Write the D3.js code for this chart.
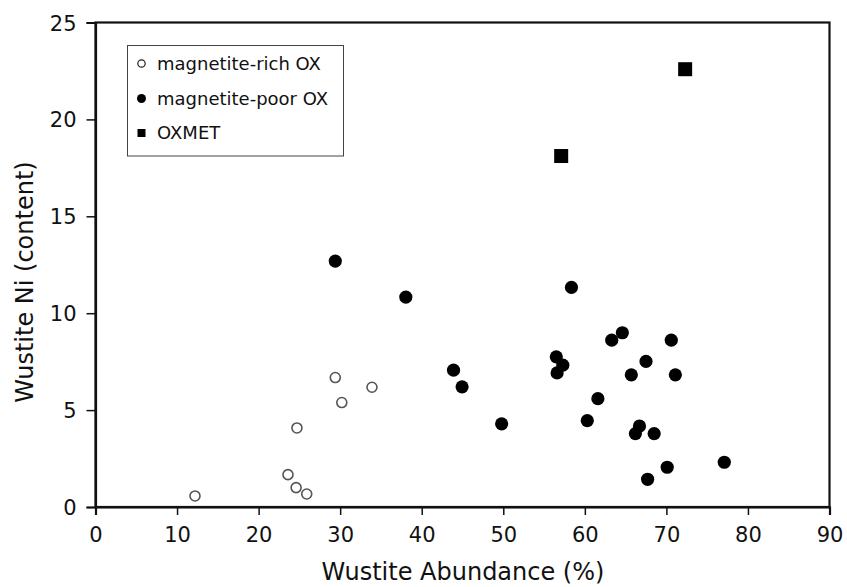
<!DOCTYPE html>
<html><head><meta charset="utf-8">
<script src="https://cdn.jsdelivr.net/npm/d3@7"></script>
<style>body{margin:0;background:#fff}svg{display:block}text{font-family:"DejaVu Sans",Verdana,sans-serif;fill:#111}</style>
</head><body><svg id="c" width="847" height="587"></svg>
<script>
const richX = [12.2, 23.6, 24.6, 25.9, 24.7, 29.4, 30.2, 33.9];
const richY = [0.57, 1.67, 1.0, 0.67, 4.08, 6.68, 5.39, 6.18];
const poorX = [29.4, 38.05, 43.9, 44.95, 49.8, 58.36, 56.5, 57.3, 56.6, 61.6, 60.3, 63.3, 64.6, 70.6, 67.5, 65.7, 71.1, 66.7, 66.2, 68.5, 77.1, 70.1, 67.7];
const poorY = [12.69, 10.83, 7.06, 6.2, 4.29, 11.33, 7.75, 7.32, 6.92, 5.59, 4.46, 8.61, 8.99, 8.61, 7.51, 6.82, 6.82, 4.18, 3.79, 3.79, 2.31, 2.05, 1.43];
const oxmetX = [57.1, 72.3];
const oxmetY = [18.11, 22.59];
const xTicks = [0,10,20,30,40,50,60,70,80,90];
const yTicks = [0,5,10,15,20,25];
const seriesNames = ["magnetite-rich OX","magnetite-poor OX","OXMET"];
const xTitle = "Wustite Abundance (%)";
const yTitle = "Wustite Ni (content)";

const svg = d3.select("#c");
const L=95.5, R=829.5, T=22.5, B=507;
const x = d3.scaleLinear().domain([0,90]).range([L,R]);
const y = d3.scaleLinear().domain([0,25]).range([B,T]);

// frame
svg.append("rect").attr("x",L).attr("y",T).attr("width",R-L).attr("height",B-T)
  .attr("fill","none").attr("stroke","#111").attr("stroke-width",2.2);

const xa = svg.append("g").attr("transform",`translate(0,${B})`)
  .call(d3.axisBottom(x).tickValues(xTicks).tickSize(8).tickPadding(12).tickFormat(d3.format("d")));
const ya = svg.append("g").attr("transform",`translate(${L},0)`)
  .call(d3.axisLeft(y).tickValues(yTicks).tickSize(9).tickPadding(10).tickFormat(d3.format("d")));
[xa,ya].forEach(a=>{
  a.attr("font-size",null).attr("font-family",null);
  a.select(".domain").attr("stroke","#111").attr("stroke-width",2.2);
  a.selectAll(".tick line").attr("stroke","#111").attr("stroke-width",1.5);
  a.selectAll(".tick text").style("font-size","21px").attr("fill","#111");
});
xa.selectAll(".tick text").attr("dy","0.71em");
ya.selectAll(".tick text").attr("dy","0.36em");

svg.append("text").attr("x",463).attr("y",580).attr("text-anchor","middle")
  .style("font-size","24px").text(xTitle);
svg.append("text").attr("transform",`translate(32.5,282) rotate(-90)`).attr("text-anchor","middle")
  .style("font-size","24px").text(yTitle);

// points
svg.append("g").selectAll("circle").data(d3.range(richX.length)).join("circle")
  .attr("cx",i=>x(richX[i])).attr("cy",i=>y(richY[i])).attr("r",5)
  .attr("fill","#fff").attr("stroke","#555").attr("stroke-width",1.6);
svg.append("g").selectAll("circle").data(d3.range(poorX.length)).join("circle")
  .attr("cx",i=>x(poorX[i])).attr("cy",i=>y(poorY[i])).attr("r",6.6)
  .attr("fill","#000");
const s=14;
svg.append("g").selectAll("rect").data(d3.range(oxmetX.length)).join("rect")
  .attr("x",i=>x(oxmetX[i])-s/2).attr("y",i=>y(oxmetY[i])-s/2).attr("width",s).attr("height",s)
  .attr("fill","#000");

// legend
const lg = svg.append("g");
lg.append("rect").attr("x",127.5).attr("y",45.5).attr("width",216).attr("height",110.5)
  .attr("fill","#fff").attr("stroke","#444").attr("stroke-width",1);
const rows=[63.5,98.5,133];
lg.append("circle").attr("cx",141.5).attr("cy",rows[0]).attr("r",3.7).attr("fill","#fff").attr("stroke","#222").attr("stroke-width",1.2);
lg.append("circle").attr("cx",141.5).attr("cy",rows[1]).attr("r",4.5).attr("fill","#000");
lg.append("rect").attr("x",137.5).attr("y",rows[2]-4).attr("width",8).attr("height",8).attr("fill","#000");
seriesNames.forEach((n,i)=>{
  lg.append("text").attr("x",157).attr("y",rows[i]).attr("dy","0.35em").style("font-size","18px").text(n);
});
</script></body></html>
